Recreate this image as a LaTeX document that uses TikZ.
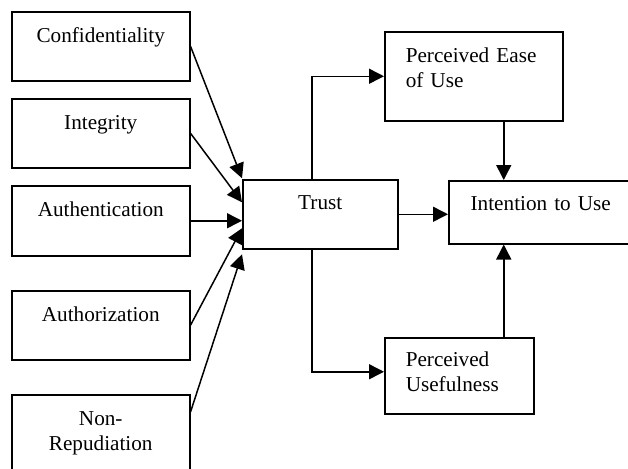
\documentclass[tikz,border=0pt]{standalone}
\usepackage{fontspec}
\setmainfont{Liberation Serif}
\usetikzlibrary{arrows.meta}

\tikzset{
  factor/.style={draw, line width=0.75pt, anchor=north west, inner sep=0pt,
    text width=89pt, align=center, text height=15.5pt,
    font=\fontsize{10.6}{12.5}\selectfont},
  percv/.style={factor, inner xsep=10.5pt, align=left},
  arr/.style={line width=0.75pt, -{Triangle[length=7.5pt,width=7.5pt]}}
}

\begin{document}
\begin{tikzpicture}[x=0.5pt,y=-0.5pt]
  \clip (0,0) rectangle (628,468);
  %% security factors
  \node[factor, text depth=19pt] (conf) at (11,11) {Confidentiality};
  \node[factor, text depth=19pt] (integ) at (11,98) {Integrity};
  \node[factor, text depth=19.5pt] (auth) at (11,185) {Authentication};
  \node[factor, text depth=19pt] (authz) at (11,290) {Authorization};
  \node[factor, text depth=27.5pt] (nonrep) at (11,394) {Non-\\Repudiation};
  %% model
  \node[factor, text width=77.5pt, text height=15pt, text depth=19.5pt] (trust) at (242,179) {Trust};
  \node[factor, text width=92pt, text height=15pt, text depth=16.5pt] (intent) at (448,180) {Intention to Use};
  \node[percv, text width=68pt, text depth=29pt] (peou) at (384,31) {Perceived Ease\\of Use};
  \node[percv, text width=53.5pt, text height=14.5pt, text depth=23.5pt] (pu) at (384,337) {Perceived\\Usefulness};
  %% factors -> trust
  \draw[arr] (conf.east) -- ([yshift=18pt]trust.west);
  \draw[arr] (integ.east) -- ([yshift=6pt]trust.west);
  \draw[arr] (auth.east) -- (auth.east -| trust.west);
  \draw[arr] (authz.east) -- ([yshift=-7pt]trust.west);
  \draw[arr] ([yshift=-9pt]nonrep.north east) -- ([yshift=-20pt]trust.west);
  %% trust -> rest
  \draw[arr] ([xshift=-4.25pt]trust.north) |- (peou.west);
  \draw[arr] ([xshift=-4.25pt]trust.south) |- ([yshift=2pt]pu.west);
  \draw[arr] (trust.east) -- (trust.east -| intent.west);
  \draw[arr] ([xshift=15pt]peou.south) -- ([xshift=15pt]intent.north -| peou.south);
  \draw[arr] ([xshift=22.25pt]pu.north) -- ([xshift=22.25pt]intent.south -| pu.north);
\end{tikzpicture}
\end{document}
